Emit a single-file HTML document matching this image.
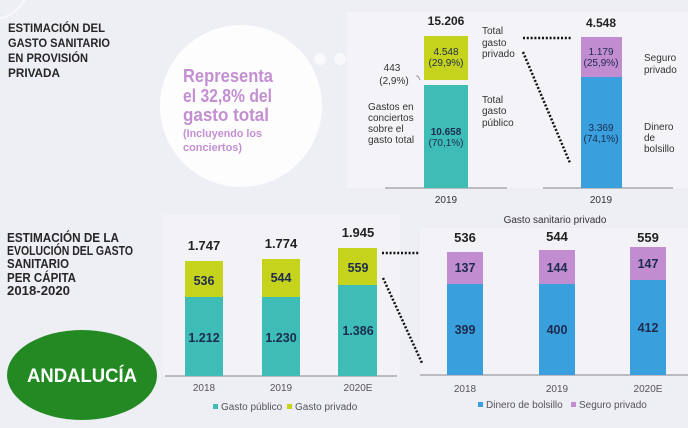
<!DOCTYPE html>
<html><head><meta charset="utf-8"><style>
html,body{margin:0;padding:0;background:#eeeef5;}
svg{display:block;}
text{font-family:"Liberation Sans",Arial,sans-serif;}
</style></head><body>
<svg width="688" height="428" viewBox="0 0 688 428" xmlns="http://www.w3.org/2000/svg">
<rect x="0" y="0" width="688" height="428" fill="#eeeef5"/>
<!-- faint decorations -->
<circle cx="-10" cy="-20" r="40" fill="none" stroke="#f8f8fb" stroke-width="2"/>
<rect x="347" y="12" width="341" height="176" fill="#f4f4f8"/>
<rect x="163" y="215" width="237" height="161" fill="#f2f2f7"/>
<rect x="420" y="228" width="268" height="147" fill="#f2f2f7"/>
<!-- circle -->
<circle cx="241" cy="106" r="81" fill="#fdfdfe"/>
<circle cx="320" cy="59" r="6" fill="#f9f9fc"/>
<circle cx="340" cy="59" r="6" fill="#f9f9fc"/>
<g fill="#c38fd1" font-weight="bold">
<text x="183" y="82" font-size="18" textLength="90" lengthAdjust="spacingAndGlyphs">Representa</text>
<text x="183" y="102" font-size="18" textLength="89" lengthAdjust="spacingAndGlyphs">el 32,8% del</text>
<text x="183" y="121" font-size="18" textLength="86" lengthAdjust="spacingAndGlyphs">gasto total</text>
<text x="183" y="137" font-size="11" textLength="79" lengthAdjust="spacingAndGlyphs">(Incluyendo los</text>
<text x="183" y="151" font-size="11" textLength="59" lengthAdjust="spacingAndGlyphs">conciertos)</text>
</g>
<!-- top-left title -->
<g fill="#262626" font-weight="bold" font-size="12">
<text x="8" y="32" textLength="97" lengthAdjust="spacingAndGlyphs">ESTIMACIÓN DEL</text>
<text x="8" y="47" textLength="102" lengthAdjust="spacingAndGlyphs">GASTO SANITARIO</text>
<text x="8" y="62" textLength="80" lengthAdjust="spacingAndGlyphs">EN PROVISIÓN</text>
<text x="8" y="77" textLength="52" lengthAdjust="spacingAndGlyphs">PRIVADA</text>
</g>
<!-- top charts bars -->
<line x1="385" y1="188" x2="507" y2="188" stroke="#a9a9b0" stroke-width="1.5"/>
<rect x="424" y="36" width="44" height="44" fill="#c6d31d"/>
<rect x="424" y="85" width="44" height="103" fill="#3dbdb5"/>
<path d="M416 76 q2 -1 4 4" stroke="#999" fill="none" stroke-width="1"/>
<line x1="543" y1="188" x2="673" y2="188" stroke="#a9a9b0" stroke-width="1.5"/>
<rect x="581" y="37" width="41" height="40" fill="#c28cd0"/>
<rect x="581" y="77" width="41" height="111" fill="#3a9fdd"/>
<text x="446" y="25" font-size="12" font-weight="bold" fill="#222" text-anchor="middle">15.206</text>
<text x="601" y="27" font-size="12" font-weight="bold" fill="#222" text-anchor="middle">4.548</text>
<g font-size="10" fill="#1d2b4f" text-anchor="middle">
<text x="446" y="55">4.548</text>
<text x="446" y="66">(29,9%)</text>
<text x="446" y="135" font-weight="bold">10.658</text>
<text x="446" y="146">(70,1%)</text>
<text x="601" y="55">1.179</text>
<text x="601" y="66">(25,9%)</text>
<text x="601" y="131">3.369</text>
<text x="601" y="142">(74,1%)</text>
</g>
<g font-size="10" fill="#333">
<text x="392" y="71" text-anchor="middle">443</text>
<text x="394" y="84" text-anchor="middle">(2,9%)</text>
<text x="368" y="110">Gastos en</text>
<text x="368" y="121">conciertos</text>
<text x="368" y="132">sobre el</text>
<text x="368" y="143">gasto total</text>
<text x="482" y="34">Total</text>
<text x="482" y="46">gasto</text>
<text x="482" y="57">privado</text>
<text x="482" y="103">Total</text>
<text x="482" y="114">gasto</text>
<text x="482" y="126">público</text>
<text x="644" y="61">Seguro</text>
<text x="644" y="73">privado</text>
<text x="644" y="130">Dinero</text>
<text x="644" y="141">de</text>
<text x="644" y="152">bolsillo</text>
<text x="446" y="203" text-anchor="middle">2019</text>
<text x="601" y="203" text-anchor="middle">2019</text>
</g>
<!-- top dotted -->
<line x1="523" y1="38" x2="572" y2="38" stroke="#111" stroke-width="2.5" stroke-dasharray="2 1.8"/>
<line x1="523" y1="52" x2="570" y2="163" stroke="#111" stroke-width="2.5" stroke-dasharray="2 1.8"/>
<!-- bottom-left title -->
<g fill="#262626" font-weight="bold" font-size="13">
<text x="7" y="242" textLength="112" lengthAdjust="spacingAndGlyphs">ESTIMACIÓN DE LA</text>
<text x="7" y="255" textLength="126" lengthAdjust="spacingAndGlyphs">EVOLUCIÓN DEL GASTO</text>
<text x="7" y="268" textLength="62" lengthAdjust="spacingAndGlyphs">SANITARIO</text>
<text x="7" y="282" textLength="69" lengthAdjust="spacingAndGlyphs">PER CÁPITA</text>
<text x="7" y="295" textLength="63" lengthAdjust="spacingAndGlyphs">2018-2020</text>
</g>
<!-- ANDALUCIA -->
<ellipse cx="82" cy="375" rx="75" ry="45" fill="#238a23"/>
<text x="82" y="382" font-size="19" font-weight="bold" fill="#ffffff" text-anchor="middle" textLength="110" lengthAdjust="spacingAndGlyphs">ANDALUCÍA</text>
<!-- bottom bars -->
<line x1="165" y1="376" x2="397" y2="376" stroke="#a9a9b0" stroke-width="1.5"/>
<rect x="185" y="261" width="38" height="36" fill="#c6d31d"/>
<rect x="185" y="297" width="38" height="79" fill="#3dbdb5"/>
<rect x="262" y="259" width="38" height="38" fill="#c6d31d"/>
<rect x="262" y="297" width="38" height="79" fill="#3dbdb5"/>
<rect x="338" y="248" width="39" height="37" fill="#c6d31d"/>
<rect x="338" y="285" width="39" height="91" fill="#3dbdb5"/>
<line x1="420" y1="375" x2="688" y2="375" stroke="#a9a9b0" stroke-width="1.5"/>
<rect x="447" y="252" width="36" height="32" fill="#c28cd0"/>
<rect x="447" y="284" width="36" height="91" fill="#3a9fdd"/>
<rect x="539" y="250" width="36" height="34" fill="#c28cd0"/>
<rect x="539" y="284" width="36" height="91" fill="#3a9fdd"/>
<rect x="630" y="247" width="36" height="33" fill="#c28cd0"/>
<rect x="630" y="280" width="36" height="95" fill="#3a9fdd"/>
<g font-size="13" font-weight="bold" fill="#222" text-anchor="middle">
<text x="204" y="250">1.747</text>
<text x="281" y="248">1.774</text>
<text x="358" y="237">1.945</text>
<text x="465" y="242">536</text>
<text x="557" y="241">544</text>
<text x="648" y="242">559</text>
</g>
<g font-size="12.5" font-weight="bold" fill="#1d2b4f" text-anchor="middle">
<text x="204" y="285">536</text>
<text x="281" y="282">544</text>
<text x="358" y="272">559</text>
<text x="204" y="342">1.212</text>
<text x="281" y="342">1.230</text>
<text x="358" y="335">1.386</text>
<text x="465" y="272">137</text>
<text x="557" y="272">144</text>
<text x="648" y="268">147</text>
<text x="465" y="334">399</text>
<text x="557" y="334">400</text>
<text x="648" y="332">412</text>
</g>
<g font-size="10" fill="#555" text-anchor="middle">
<text x="204" y="391">2018</text>
<text x="281" y="391">2019</text>
<text x="358" y="391">2020E</text>
<text x="465" y="392">2018</text>
<text x="557" y="392">2019</text>
<text x="648" y="392">2020E</text>
<text x="555" y="223" fill="#333">Gasto sanitario privado</text>
</g>
<rect x="213" y="404" width="5" height="5" fill="#3dbdb5"/>
<text x="221" y="410" font-size="10" fill="#555">Gasto público</text>
<rect x="287" y="404" width="5" height="5" fill="#c6d31d"/>
<text x="295" y="410" font-size="10" fill="#555">Gasto privado</text>
<!-- bottom dotted -->
<line x1="382" y1="253" x2="419" y2="253" stroke="#111" stroke-width="2.5" stroke-dasharray="2 1.8"/>
<line x1="383" y1="278" x2="422" y2="363" stroke="#111" stroke-width="2.5" stroke-dasharray="2 1.8"/>
<rect x="478" y="402" width="5" height="5" fill="#3a9fdd"/>
<text x="486" y="408" font-size="10" fill="#555">Dinero de bolsillo</text>
<rect x="571" y="402" width="5" height="5" fill="#c28cd0"/>
<text x="579" y="408" font-size="10" fill="#555">Seguro privado</text>
</svg>
</body></html>
